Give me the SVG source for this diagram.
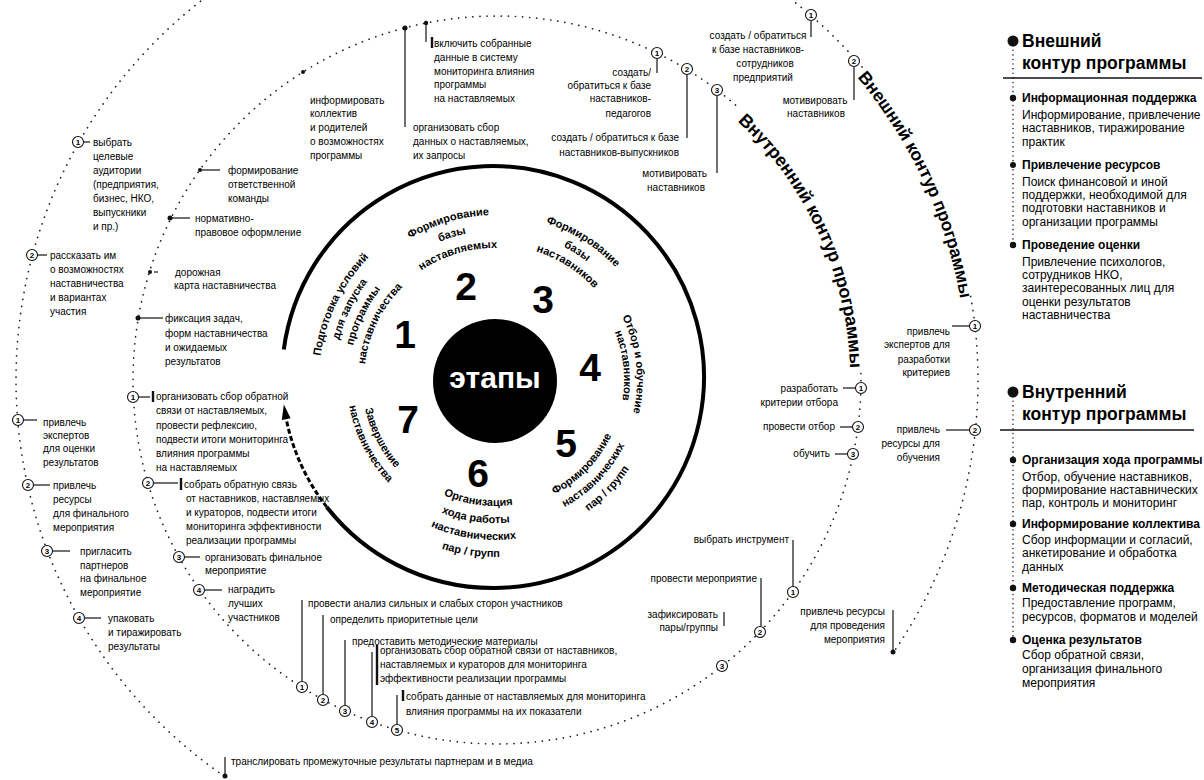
<svg xmlns="http://www.w3.org/2000/svg" width="1204" height="780" viewBox="0 0 1204 780">
<style>
text{font-family:"Liberation Sans",Arial,sans-serif;fill:#000}
.s{font-size:10px}
.e{text-anchor:end}
.m{text-anchor:middle}
.lg{font-size:12px}
.lh{font-size:12px;font-weight:bold}
.tt{font-size:17.5px;font-weight:bold}
.st{font-size:11px;font-weight:bold;text-anchor:middle}
.dg{font-size:39px;font-weight:bold;text-anchor:middle;fill:#000}
.ct{font-size:18px;font-weight:bold;text-anchor:middle}
.num circle{fill:#fff;stroke:#111;stroke-width:1.1}
.num text{font-size:8px;font-weight:bold;text-anchor:middle}
.ln{stroke:#111;stroke-width:1.2;fill:none}
.bar{stroke:#111;stroke-width:2.4}
.dots{fill:none;stroke:#222;stroke-width:1.7;stroke-linecap:round;stroke-dasharray:0.1 7}
.dot{fill:#111}
</style>
<defs>
<path id="s1a" d="M321.17 407.53 A176 176 0 0 1 409.67 226.07"/>
<path id="s1b" d="M335.98 405.19 A161 161 0 0 1 416.95 239.19"/>
<path id="s1c" d="M350.80 402.84 A146 146 0 0 1 424.22 252.31"/>
<path id="s1d" d="M365.61 400.49 A131 131 0 0 1 431.49 265.43"/>
<path id="s2a" d="M365.87 277.29 A165 165 0 0 1 547.35 223.53"/>
<path id="s2b" d="M378.39 287.25 A149 149 0 0 1 542.28 238.70"/>
<path id="s2c" d="M391.70 297.83 A132 132 0 0 1 536.88 254.82"/>
<path id="s3a" d="M487.80 215.16 A165 165 0 0 1 647.44 316.86"/>
<path id="s3b" d="M488.46 230.14 A150 150 0 0 1 633.58 322.60"/>
<path id="s3c" d="M489.11 245.13 A135 135 0 0 1 619.72 328.34"/>
<path id="s4a" d="M601.35 285.91 A142 142 0 0 1 619.79 447.76"/>
<path id="s4b" d="M591.62 294.52 A129 129 0 0 1 608.37 441.55"/>
<path id="s5a" d="M519.61 506.63 A129 129 0 0 0 622.41 400.18"/>
<path id="s5b" d="M522.67 522.34 A145 145 0 0 0 638.22 402.68"/>
<path id="s5c" d="M525.72 538.04 A161 161 0 0 0 654.02 405.19"/>
<path id="s6a" d="M409.07 472.15 A126 126 0 0 0 552.20 492.27"/>
<path id="s6b" d="M397.47 484.58 A143 143 0 0 0 559.92 507.41"/>
<path id="s6c" d="M385.88 497.02 A160 160 0 0 0 567.64 522.56"/>
<path id="s6d" d="M374.29 509.45 A177 177 0 0 0 575.36 537.71"/>
<path id="s7a" d="M363.29 361.49 A133 133 0 0 0 432.56 497.43"/>
<path id="s7b" d="M348.44 359.40 A148 148 0 0 0 425.52 510.68"/>
<path id="ci" d="M619.44 43.59 A358 358 0 0 1 831.22 508.30"/>
<path id="co" d="M659.46 -66.35 A475 475 0 0 1 943.35 542.46"/>
</defs>

<g id="contours">
<path class="dots" d="M860.94 373.65 A364 364 0 0 1 181.77 562 A364 364 0 0 1 740.56 109.50"/>
<path class="dots" d="M224.56 776.41 A481 481 0 0 1 228.03 -18.77"/>
<path class="dots" d="M772.89 -14.01 A481 481 0 0 1 862.76 67.61"/>
<path class="dots" d="M970.69 296.48 A481 481 0 0 1 893.41 652.44"/>
<path d="M283.81 349.46 A211 211 0 1 1 326.73 506.90" fill="none" stroke="#000" stroke-width="4"/>
<path d="M326.73 506.90 A211 211 0 0 1 286.24 419.07" fill="none" stroke="#000" stroke-width="3" stroke-dasharray="5 2.5"/>
<polygon points="283.81,404.54 281.83,419.97 290.65,418.17" fill="#000"/>
<text class="ct"><textPath href="#ci" startOffset="50%" dominant-baseline="middle">Внутренний контур программы</textPath></text>
<text class="ct" style="font-size:17.5px"><textPath href="#co" startOffset="50%" dominant-baseline="middle">Внешний контур программы</textPath></text>
</g>

<g id="connectors">
<line class="ln" x1="405" y1="28" x2="405" y2="127"/>
<line class="ln" x1="426" y1="23" x2="426" y2="42"/>
<line class="bar" x1="432" y1="37" x2="432" y2="48"/>
<line class="ln" x1="657" y1="59" x2="657" y2="73"/>
<line class="ln" x1="687" y1="75" x2="687" y2="138"/>
<line class="ln" x1="717" y1="96" x2="717" y2="173"/>
<line class="ln" x1="811" y1="21" x2="811" y2="37"/>
<line class="ln" x1="854" y1="67" x2="854" y2="100"/>
<line class="ln" x1="952" y1="326" x2="969" y2="326"/>
<line class="ln" x1="946" y1="430" x2="969" y2="430"/>
<line class="ln" x1="843" y1="388" x2="856" y2="388"/>
<line class="ln" x1="840" y1="427" x2="852" y2="427"/>
<line class="ln" x1="835" y1="454" x2="847" y2="454"/>
<line class="ln" x1="793" y1="540" x2="793" y2="586"/>
<line class="ln" x1="761" y1="578" x2="761" y2="626"/>
<line class="ln" x1="724" y1="612" x2="724" y2="626"/>
<line class="ln" x1="893" y1="610" x2="893" y2="650"/>
<line class="ln" x1="302" y1="600" x2="302" y2="681"/>
<line class="ln" x1="323" y1="615" x2="323" y2="694"/>
<line class="ln" x1="345" y1="640" x2="345" y2="705"/>
<line class="ln" x1="372" y1="652" x2="372" y2="716"/>
<line class="bar" x1="377" y1="645" x2="377" y2="685"/>
<line class="ln" x1="397" y1="695" x2="397" y2="724"/>
<line class="bar" x1="403" y1="690" x2="403" y2="701"/>
<line class="ln" x1="225" y1="757" x2="225" y2="776"/>
<line class="ln" x1="139" y1="397" x2="150" y2="397"/>
<line class="bar" x1="153" y1="391" x2="153" y2="402"/>
<line class="ln" x1="154" y1="483" x2="178" y2="483"/>
<line class="bar" x1="181" y1="478" x2="181" y2="490"/>
<line class="ln" x1="185" y1="557" x2="200" y2="557"/>
<line class="ln" x1="205" y1="590" x2="222" y2="590"/>
<line class="ln" x1="202" y1="170" x2="220" y2="170"/>
<line class="ln" x1="172" y1="218" x2="190" y2="218"/>
<line class="ln" x1="154" y1="272" x2="158" y2="272"/>
<line class="ln" x1="140" y1="318" x2="163" y2="318"/>
<line class="ln" x1="84" y1="142" x2="90" y2="142"/>
<line class="ln" x1="38" y1="255" x2="47" y2="255"/>
<line class="ln" x1="24" y1="420" x2="37" y2="420"/>
<line class="ln" x1="34" y1="485" x2="50" y2="485"/>
<line class="ln" x1="53" y1="551" x2="70" y2="551"/>
<line class="ln" x1="85" y1="618" x2="101" y2="618"/>
</g>

<g id="center">
<circle cx="495" cy="381" r="62" fill="#000"/>
<text x="495" y="388" class="m" style="font-size:30px;font-weight:bold;fill:#fff">этапы</text>
</g>

<g id="stage1"><text class="dg" x="405" y="348">1</text>
<text class="st"><textPath href="#s1a" startOffset="50%">Подготовка условий</textPath></text>
<text class="st"><textPath href="#s1b" startOffset="50%">для запуска</textPath></text>
<text class="st"><textPath href="#s1c" startOffset="50%">программы</textPath></text>
<text class="st"><textPath href="#s1d" startOffset="50%">наставничества</textPath></text></g>
<g id="stage2"><text class="dg" x="466" y="300">2</text>
<text class="st"><textPath href="#s2a" startOffset="50%">Формирование</textPath></text>
<text class="st"><textPath href="#s2b" startOffset="50%">базы</textPath></text>
<text class="st"><textPath href="#s2c" startOffset="50%">наставляемых</textPath></text></g>
<g id="stage3"><text class="dg" x="543" y="313">3</text>
<text class="st"><textPath href="#s3a" startOffset="50%">Формирование</textPath></text>
<text class="st"><textPath href="#s3b" startOffset="50%">базы</textPath></text>
<text class="st"><textPath href="#s3c" startOffset="50%">наставников</textPath></text></g>
<g id="stage4"><text class="dg" x="590" y="381">4</text>
<text class="st"><textPath href="#s4a" startOffset="50%">Отбор и обучение</textPath></text>
<text class="st"><textPath href="#s4b" startOffset="50%">наставников</textPath></text></g>
<g id="stage5"><text class="dg" x="566" y="457">5</text>
<text class="st"><textPath href="#s5a" startOffset="50%">Формирование</textPath></text>
<text class="st"><textPath href="#s5b" startOffset="50%">наставнических</textPath></text>
<text class="st"><textPath href="#s5c" startOffset="50%">пар / групп</textPath></text></g>
<g id="stage6"><text class="dg" x="478" y="487">6</text>
<text class="st"><textPath href="#s6a" startOffset="50%">Организация</textPath></text>
<text class="st"><textPath href="#s6b" startOffset="50%">хода работы</textPath></text>
<text class="st"><textPath href="#s6c" startOffset="50%">наставнических</textPath></text>
<text class="st"><textPath href="#s6d" startOffset="50%">пар / групп</textPath></text></g>
<g id="stage7"><text class="dg" x="408" y="433">7</text>
<text class="st"><textPath href="#s7a" startOffset="50%">Завершение</textPath></text>
<text class="st"><textPath href="#s7b" startOffset="50%">наставничества</textPath></text></g>

<g id="n-inform"><circle class="dot" cx="303" cy="72" r="2"/>
<text class="s" x="310" y="104">информировать</text><text class="s" x="310" y="117">коллектив</text><text class="s" x="310" y="131">и родителей</text><text class="s" x="310" y="145">о возможностях</text><text class="s" x="310" y="159">программы</text></g>
<g id="n-collect"><circle class="dot" cx="405" cy="28" r="2.5"/>
<text class="s" x="413" y="131">организовать сбор</text><text class="s" x="413" y="145">данных о наставляемых,</text><text class="s" x="413" y="159">их запросы</text></g>
<g id="n-include"><circle class="dot" cx="426" cy="23" r="2.2"/>
<text class="s" x="434" y="47">включить собранные</text><text class="s" x="434" y="61">данные в систему</text><text class="s" x="434" y="75">мониторинга влияния</text><text class="s" x="434" y="88">программы</text><text class="s" x="434" y="102">на наставляемых</text></g>
<g id="n-i3-1"><g class="num" transform="translate(657,53)"><circle r="5.5"/><text y="2.9">1</text></g>
<text class="s e" x="651" y="76">создать/</text><text class="s e" x="651" y="89">обратиться к базе</text><text class="s e" x="651" y="102">наставников-</text><text class="s e" x="651" y="117">педагогов</text></g>
<g id="n-i3-2"><g class="num" transform="translate(687,69)"><circle r="5.5"/><text y="2.9">2</text></g>
<text class="s e" x="679" y="141">создать / обратиться к базе</text><text class="s e" x="679" y="156">наставников-выпускников</text></g>
<g id="n-i3-3"><g class="num" transform="translate(717,90)"><circle r="5.5"/><text y="2.9">3</text></g>
<text class="s e" x="707" y="177">мотивировать</text><text class="s e" x="705" y="191">наставников</text></g>
<g id="n-o3-1"><g class="num" transform="translate(811,15)"><circle r="5.5"/><text y="2.9">1</text></g>
<text class="s m" x="758" y="39">создать / обратиться</text><text class="s m" x="758" y="53">к базе наставников-</text><text class="s m" x="765" y="67">сотрудников</text><text class="s m" x="763" y="81">предприятий</text></g>
<g id="n-o3-2"><g class="num" transform="translate(854,61)"><circle r="5.5"/><text y="2.9">2</text></g>
<text class="s m" x="815" y="104">мотивировать</text><text class="s m" x="816" y="117">наставников</text></g>

<g id="n-o4-1"><g class="num" transform="translate(975,326)"><circle r="5.5"/><text y="2.9">1</text></g>
<text class="s e" x="950" y="335">привлечь</text><text class="s e" x="950" y="348">экспертов для</text><text class="s e" x="950" y="363">разработки</text><text class="s e" x="950" y="376">критериев</text></g>
<g id="n-o4-2"><g class="num" transform="translate(975,430)"><circle r="5.5"/><text y="2.9">2</text></g>
<text class="s e" x="940" y="433">привлечь</text><text class="s e" x="940" y="447">ресурсы для</text><text class="s e" x="940" y="461">обучения</text></g>
<g id="n-i4-1"><g class="num" transform="translate(861,388)"><circle r="5.5"/><text y="2.9">1</text></g>
<text class="s e" x="838" y="392">разработать</text><text class="s e" x="838" y="406">критерии отбора</text></g>
<g id="n-i4-2"><g class="num" transform="translate(858,427)"><circle r="5.5"/><text y="2.9">2</text></g>
<text class="s e" x="835" y="430">провести отбор</text></g>
<g id="n-i4-3"><g class="num" transform="translate(853,454)"><circle r="5.5"/><text y="2.9">3</text></g>
<text class="s e" x="830" y="457">обучить</text></g>

<g id="n-i5-1"><g class="num" transform="translate(793,592)"><circle r="5.5"/><text y="2.9">1</text></g>
<text class="s e" x="789" y="543">выбрать инструмент</text></g>
<g id="n-i5-2"><g class="num" transform="translate(760,632)"><circle r="5.5"/><text y="2.9">2</text></g>
<text class="s e" x="757" y="582">провести мероприятие</text></g>
<g id="n-i5-3"><g class="num" transform="translate(722,666)"><circle r="5.5"/><text y="2.9">3</text></g>
<text class="s e" x="718" y="618">зафиксировать</text><text class="s e" x="718" y="631">пары/группы</text></g>
<g id="n-o5"><circle class="dot" cx="893" cy="652" r="2.5"/>
<text class="s e" x="885" y="615">привлечь ресурсы</text><text class="s e" x="885" y="629">для проведения</text><text class="s e" x="885" y="643">мероприятия</text></g>

<g id="n-i6-1"><g class="num" transform="translate(302,687)"><circle r="5.5"/><text y="2.9">1</text></g>
<text class="s" x="308" y="607">провести анализ сильных и слабых сторон участников</text></g>
<g id="n-i6-2"><g class="num" transform="translate(323,700)"><circle r="5.5"/><text y="2.9">2</text></g>
<text class="s" x="330" y="623">определить приоритетные цели</text></g>
<g id="n-i6-3"><g class="num" transform="translate(345,711)"><circle r="5.5"/><text y="2.9">3</text></g>
<text class="s" x="352" y="645">предоставить методические материалы</text></g>
<g id="n-i6-4"><g class="num" transform="translate(372,722)"><circle r="5.5"/><text y="2.9">4</text></g>
<text class="s" x="380" y="654">организовать сбор обратной связи от наставников,</text><text class="s" x="380" y="668">наставляемых и кураторов для мониторинга</text><text class="s" x="380" y="682">эффективности реализации программы</text></g>
<g id="n-i6-5"><g class="num" transform="translate(397,730)"><circle r="5.5"/><text y="2.9">5</text></g>
<text class="s" x="406" y="700">собрать данные от наставляемых для мониторинга</text><text class="s" x="406" y="715">влияния программы на их показатели</text></g>
<g id="n-o6"><circle class="dot" cx="225" cy="776" r="2.5"/>
<text class="s" x="231" y="765">транслировать промежуточные результаты партнерам и в медиа</text></g>

<g id="n-i1-a"><circle class="dot" cx="200" cy="170" r="2"/>
<text class="s" x="228" y="174">формирование</text><text class="s" x="228" y="188">ответственной</text><text class="s" x="228" y="202">команды</text></g>
<g id="n-i1-b"><circle class="dot" cx="170" cy="218" r="2.5"/>
<text class="s" x="195" y="222">нормативно-</text><text class="s" x="195" y="236">правовое оформление</text></g>
<g id="n-i1-c"><circle class="dot" cx="150" cy="272" r="2"/>
<text class="s" x="175" y="276">дорожная</text><text class="s" x="174" y="289">карта наставничества</text></g>
<g id="n-i1-d"><circle class="dot" cx="138" cy="318" r="2.5"/>
<text class="s" x="165" y="322">фиксация задач,</text><text class="s" x="165" y="337">форм наставничества</text><text class="s" x="165" y="351">и ожидаемых</text><text class="s" x="165" y="365">результатов</text></g>
<g id="n-i7-1"><g class="num" transform="translate(133,397)"><circle r="5.5"/><text y="2.9">1</text></g>
<text class="s" x="156" y="400">организовать сбор обратной</text><text class="s" x="156" y="414">связи от наставляемых,</text><text class="s" x="156" y="429">провести рефлексию,</text><text class="s" x="156" y="443">подвести итоги мониторинга</text><text class="s" x="156" y="457">влияния программы</text><text class="s" x="156" y="471">на наставляемых</text></g>
<g id="n-i7-2"><g class="num" transform="translate(148,483)"><circle r="5.5"/><text y="2.9">2</text></g>
<text class="s" x="184" y="488">собрать обратную связь</text><text class="s" x="186" y="502">от наставников, наставляемых</text><text class="s" x="186" y="516">и кураторов, подвести итоги</text><text class="s" x="186" y="530">мониторинга эффективности</text><text class="s" x="186" y="544">реализации программы</text></g>
<g id="n-i7-3"><g class="num" transform="translate(179,557)"><circle r="5.5"/><text y="2.9">3</text></g>
<text class="s" x="205" y="561">организовать финальное</text><text class="s" x="205" y="574">мероприятие</text></g>
<g id="n-i7-4"><g class="num" transform="translate(199,590)"><circle r="5.5"/><text y="2.9">4</text></g>
<text class="s" x="228" y="593">наградить</text><text class="s" x="228" y="607">лучших</text><text class="s" x="228" y="621">участников</text></g>

<g id="n-o1-1"><g class="num" transform="translate(78,142)"><circle r="5.5"/><text y="2.9">1</text></g>
<text class="s" x="93" y="146">выбрать</text><text class="s" x="93" y="160">целевые</text><text class="s" x="93" y="174">аудитории</text><text class="s" x="93" y="188">(предприятия,</text><text class="s" x="93" y="202">бизнес, НКО,</text><text class="s" x="93" y="216">выпускники</text><text class="s" x="93" y="230">и пр.)</text></g>
<g id="n-o1-2"><g class="num" transform="translate(32,255)"><circle r="5.5"/><text y="2.9">2</text></g>
<text class="s" x="50" y="259">рассказать им</text><text class="s" x="50" y="273">о возможностях</text><text class="s" x="50" y="287">наставничества</text><text class="s" x="50" y="301">и вариантах</text><text class="s" x="50" y="315">участия</text></g>
<g id="n-o7-1"><g class="num" transform="translate(18,420)"><circle r="5.5"/><text y="2.9">1</text></g>
<text class="s" x="43" y="426">привлечь</text><text class="s" x="43" y="439">экспертов</text><text class="s" x="43" y="452">для оценки</text><text class="s" x="43" y="466">результатов</text></g>
<g id="n-o7-2"><g class="num" transform="translate(28,485)"><circle r="5.5"/><text y="2.9">2</text></g>
<text class="s" x="53" y="489">привлечь</text><text class="s" x="53" y="503">ресурсы</text><text class="s" x="53" y="517">для финального</text><text class="s" x="53" y="531">мероприятия</text></g>
<g id="n-o7-3"><g class="num" transform="translate(47,551)"><circle r="5.5"/><text y="2.9">3</text></g>
<text class="s" x="80" y="555">пригласить</text><text class="s" x="80" y="569">партнеров</text><text class="s" x="80" y="582">на финальное</text><text class="s" x="80" y="596">мероприятие</text></g>
<g id="n-o7-4"><g class="num" transform="translate(79,618)"><circle r="5.5"/><text y="2.9">4</text></g>
<text class="s" x="108" y="622">упаковать</text><text class="s" x="108" y="636">и тиражировать</text><text class="s" x="108" y="650">результаты</text></g>

<g id="legend-outer">
<line x1="1013" y1="41" x2="1013" y2="245" class="dots" style="stroke-dasharray:0.1 4.5;stroke-width:1.5"/>
<circle class="dot" cx="1013" cy="41" r="5.5"/>
<text class="tt" x="1022" y="47">Внешний</text><text class="tt" x="1022" y="69">контур программы</text>
<line x1="1003" y1="78" x2="1202" y2="78" stroke="#111" stroke-width="1.5"/>
<circle class="dot" cx="1013" cy="98" r="3.2"/>
<text class="lh" x="1022" y="102">Информационная поддержка</text>
<text class="lg" x="1022" y="119">Информирование, привлечение</text><text class="lg" x="1022" y="132">наставников, тиражирование</text><text class="lg" x="1022" y="146">практик</text>
<circle class="dot" cx="1013" cy="165" r="3"/>
<text class="lh" x="1022" y="169">Привлечение ресурсов</text>
<text class="lg" x="1022" y="186">Поиск финансовой и иной</text><text class="lg" x="1022" y="199">поддержки, необходимой для</text><text class="lg" x="1022" y="212">подготовки наставников и</text><text class="lg" x="1022" y="226">организации программы</text>
<circle class="dot" cx="1013" cy="245" r="3.2"/>
<text class="lh" x="1022" y="249">Проведение оценки</text>
<text class="lg" x="1022" y="266">Привлечение психологов,</text><text class="lg" x="1022" y="279">сотрудников НКО,</text><text class="lg" x="1022" y="292">заинтересованных лиц для</text><text class="lg" x="1022" y="306">оценки результатов</text><text class="lg" x="1022" y="319">наставничества</text>
</g>
<g id="legend-inner">
<line x1="1013" y1="392" x2="1013" y2="640" class="dots" style="stroke-dasharray:0.1 4.5;stroke-width:1.5"/>
<circle class="dot" cx="1013" cy="392" r="5.5"/>
<text class="tt" x="1022" y="398">Внутренний</text><text class="tt" x="1022" y="420">контур программы</text>
<line x1="1000" y1="430" x2="1194" y2="430" stroke="#111" stroke-width="1.5"/>
<circle class="dot" cx="1013" cy="460" r="3.2"/>
<text class="lh" x="1022" y="464">Организация хода программы</text>
<text class="lg" x="1022" y="481">Отбор, обучение наставников,</text><text class="lg" x="1022" y="494">формирование наставнических</text><text class="lg" x="1022" y="507">пар, контроль и мониторинг</text>
<circle class="dot" cx="1013" cy="524" r="3.2"/>
<text class="lh" x="1022" y="528">Информирование коллектива</text>
<text class="lg" x="1022" y="544">Сбор информации и согласий,</text><text class="lg" x="1022" y="557">анкетирование и обработка</text><text class="lg" x="1022" y="571">данных</text>
<circle class="dot" cx="1013" cy="588" r="3.2"/>
<text class="lh" x="1022" y="592">Методическая поддержка</text>
<text class="lg" x="1022" y="607">Предоставление программ,</text><text class="lg" x="1022" y="621">ресурсов, форматов и моделей</text>
<circle class="dot" cx="1013" cy="640" r="3.2"/>
<text class="lh" x="1022" y="644">Оценка результатов</text>
<text class="lg" x="1022" y="659">Сбор обратной связи,</text><text class="lg" x="1022" y="673">организация финального</text><text class="lg" x="1022" y="687">мероприятия</text>
</g>
</svg>
